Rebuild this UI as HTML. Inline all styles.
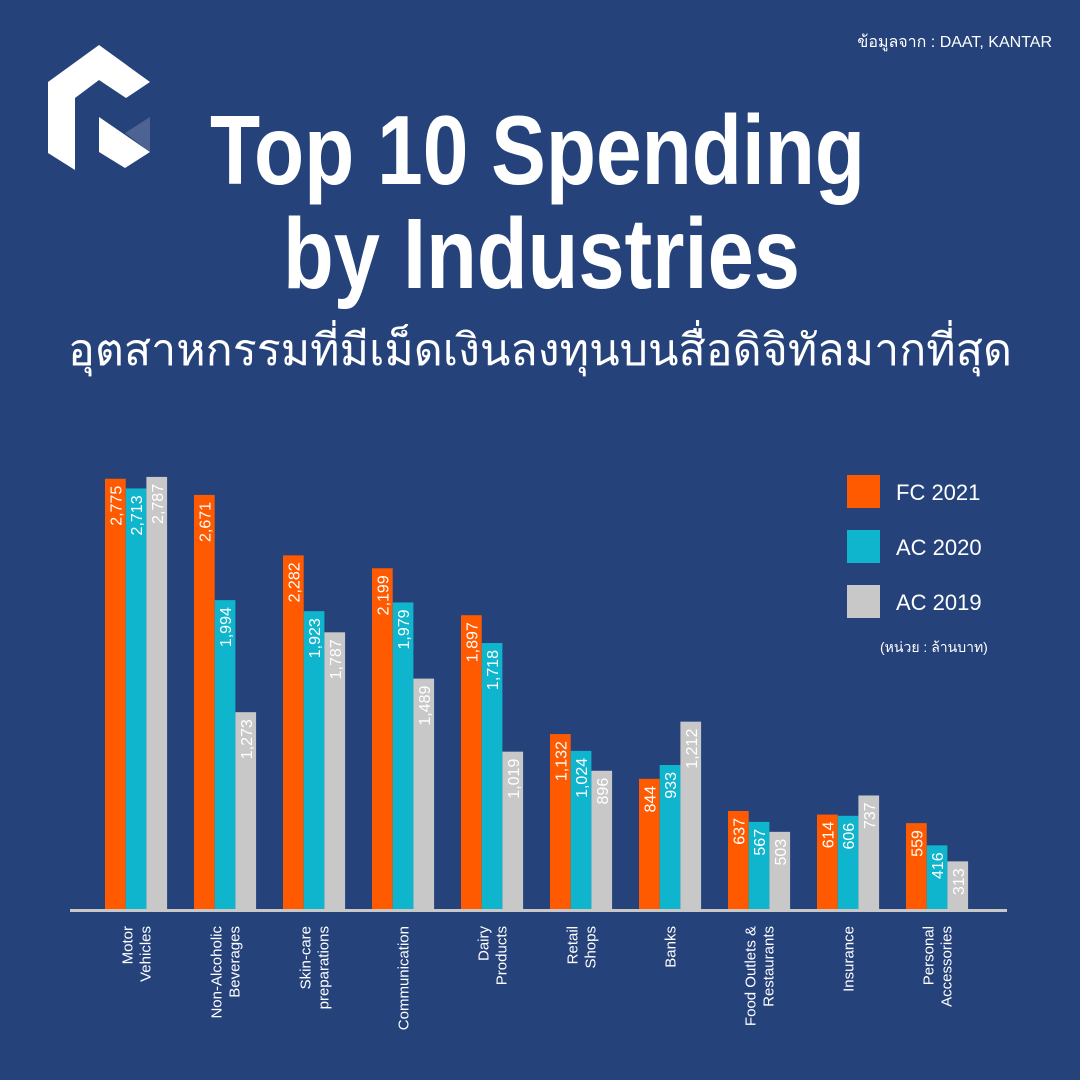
<!DOCTYPE html>
<html><head><meta charset="utf-8"><style>
html,body{margin:0;padding:0;background:#25427b;}
svg{display:block;font-family:"Liberation Sans","Noto Sans CJK SC",sans-serif;}
</style></head><body>
<svg id="s" width="1080" height="1080" viewBox="0 0 1080 1080" xmlns="http://www.w3.org/2000/svg">
<rect width="1080" height="1080" fill="#25427b"/>
<text x="1052" y="47" text-anchor="end" fill="#fff" font-size="16">ข้อมูลจาก : DAAT, KANTAR</text>
<polygon points="48,82 99,45 150,82 126,98 99,80 75,98 75,170 48,153" fill="#fff"/>
<polygon points="99,117 150,152 125,168 99,152" fill="#fff"/>
<polygon points="125,133 150,117 150,152" fill="#4d6394"/>
<text x="210" y="184" fill="#fff" font-size="98" font-weight="bold" textLength="655" lengthAdjust="spacingAndGlyphs">Top 10 Spending</text>
<text x="283" y="288" fill="#fff" font-size="100" font-weight="bold" textLength="517" lengthAdjust="spacingAndGlyphs">by Industries</text>
<text x="68" y="365" fill="#fff" font-size="44" textLength="944" lengthAdjust="spacingAndGlyphs">อุตสาหกรรมที่มีเม็ดเงินลงทุนบนสื่อดิจิทัลมากที่สุด</text>
<rect x="847" y="475" width="33" height="33" fill="#ff5a00"/>
<rect x="847" y="530" width="33" height="33" fill="#0fb5cc"/>
<rect x="847" y="585" width="33" height="33" fill="#c8c8c8"/>
<text x="896" y="500" fill="#fff" font-size="22">FC 2021</text>
<text x="896" y="555" fill="#fff" font-size="22">AC 2020</text>
<text x="896" y="610" fill="#fff" font-size="22">AC 2019</text>
<text x="880" y="652" fill="#fff" font-size="14">(หน่วย : ล้านบาท)</text>
<g id="bars"></g>
<rect x="70" y="909" width="937" height="3" fill="#c8c8c8"/>
</svg>
<script>
var data=[[2775,2713,2787,["Motor","Vehicles"]],[2671,1994,1273,["Non-Alcoholic","Beverages"]],[2282,1923,1787,["Skin-care","preparations"]],[2199,1979,1489,["Communication"]],[1897,1718,1019,["Dairy","Products"]],[1132,1024,896,["Retail","Shops"]],[844,933,1212,["Banks"]],[637,567,503,["Food Outlets &","Restaurants"]],[614,606,737,["Insurance"]],[559,416,313,["Personal","Accessories"]]];
var cols=["#ff5a00","#0fb5cc","#c8c8c8"];var g=document.getElementById("bars");var h="";
data.forEach(function(d,i){var gx=105+i*89;
for(var j=0;j<3;j++){var x=gx+j*20.7,ht=d[j]*0.1554,top=910-ht;
h+='<rect x="'+x+'" y="'+top+'" width="20.7" height="'+ht+'" fill="'+cols[j]+'"/>';
var cx=x+10.35+6,ty=top+7;
h+='<text transform="translate('+cx+','+ty+') rotate(-90)" text-anchor="end" fill="#fff" font-size="16">'+d[j].toLocaleString("en-US")+'</text>';}
var c=gx+31,L=d[3],n=L.length;
L.forEach(function(t,k){var lx=c+5.5+(k-(n-1)/2)*18;
h+='<text transform="translate('+lx+',926) rotate(-90)" text-anchor="end" fill="#fff" font-size="15">'+t.replace("&","&amp;")+'</text>';});
});
g.innerHTML=h;
</script>
</body></html>
